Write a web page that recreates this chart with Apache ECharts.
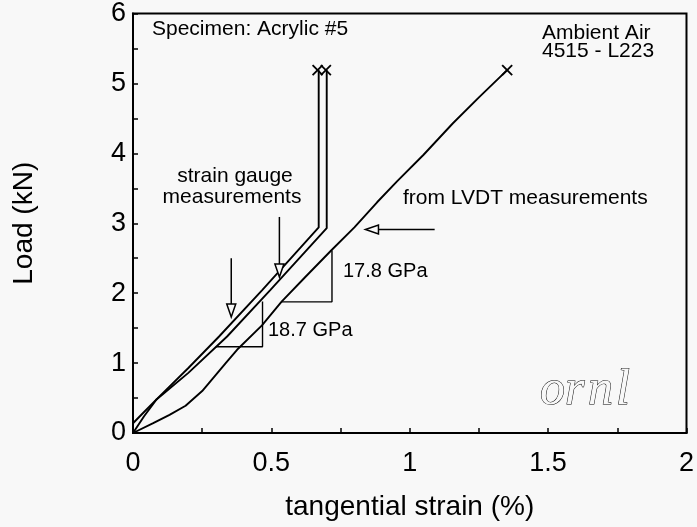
<!DOCTYPE html>
<html>
<head>
<meta charset="utf-8">
<script src="https://cdn.jsdelivr.net/npm/echarts@6/dist/echarts.min.js"></script>
<style>
  html, body { margin: 0; padding: 0; background: #f8f8f8; }
  #chart { width: 697px; height: 527px; }
</style>
</head>
<body>
<div id="chart"></div>
<script>
// Load vs. tangential strain, acrylic ring specimen #5 (strain %, load kN)

// strain gauge record that starts at the origin
const gaugeA = [
  [0, 0], [0.04, 0.24], [0.085, 0.48], [0.2, 0.93], [0.311, 1.38],
  [0.466, 2.04], [0.671, 2.94], [0.671, 5.19]
];
// second strain gauge record
const gaugeB = [
  [0, 0.14], [0.04, 0.3], [0.085, 0.48], [0.2, 0.86], [0.34, 1.38],
  [0.495, 2.04], [0.70, 2.93], [0.70, 5.19]
];
// strain computed from LVDT displacement
const lvdt = [
  [0, 0], [0.073, 0.14], [0.132, 0.26], [0.19, 0.39], [0.25, 0.6],
  [0.335, 1.0], [0.376, 1.19], [0.466, 1.54], [0.537, 1.88], [0.62, 2.22],
  [0.716, 2.61], [0.80, 2.94], [0.882, 3.30], [0.954, 3.60], [1.05, 3.98],
  [1.156, 4.43], [1.25, 4.80], [1.352, 5.19]
];
// failure points (x marks)
const failure = [[0.667, 5.19], [0.697, 5.19], [1.352, 5.19]];
// slope triangles used for the modulus estimates
const slope187 = [[0.299, 1.233], [0.468, 1.233], [0.468, 1.88]];
const slope178 = [[0.537, 1.876], [0.719, 1.876], [0.719, 2.61]];
// callout arrows: [fromStrain, fromLoad, toStrain, toLoad]
const arrows = [
  [0.355, 2.50, 0.355, 1.66],
  [0.529, 3.09, 0.529, 2.23],
  [1.09, 2.91, 0.84, 2.91]
];
const strainRange = [0, 2];
const loadRange = [0, 6];

const FONT = "'Liberation Sans', Arial, Helvetica, sans-serif";
const LOGO_FONT = 'italic 50px "Liberation Serif", "DejaVu Serif", serif';
const BG = '#f8f8f8';

const chart = echarts.init(document.getElementById('chart'));

const curve = (data) => ({
  type: 'line',
  data: data,
  symbol: 'none',
  lineStyle: { color: '#000', width: 1.9 },
  silent: true,
  z: 3
});

const thin = (data) => ({
  type: 'line',
  data: data,
  symbol: 'none',
  lineStyle: { color: '#000', width: 1.4 },
  silent: true,
  z: 3
});

function text(x, y, s, opts) {
  return {
    type: 'text',
    style: Object.assign({
      x: x, y: y, text: s,
      font: '21px ' + FONT,
      fill: '#000',
      textAlign: 'left',
      textVerticalAlign: 'middle'
    }, opts || {}),
    z: 10
  };
}

// spaced, outlined logo letters
function logo(x, s) {
  return text(x, 391, s, { font: LOGO_FONT, fill: BG, stroke: '#000', lineWidth: 1 });
}

chart.setOption({
  backgroundColor: BG,
  animation: false,
  grid: {
    left: 133, right: 4, top: 13, bottom: 94,
    show: true, borderColor: '#000', borderWidth: 2,
    backgroundColor: 'transparent'
  },
  xAxis: {
    type: 'value',
    min: strainRange[0], max: strainRange[1], interval: 0.5,
    name: 'tangential strain (%)',
    nameLocation: 'middle', nameGap: 60,
    nameTextStyle: { fontFamily: FONT, fontSize: 28, color: '#000' },
    axisLine: { show: true, lineStyle: { color: '#000', width: 2 } },
    axisTick: { show: true, inside: true, length: 5, lineStyle: { color: '#000', width: 1.5 } },
    minorTick: { show: true, splitNumber: 2, length: 5, lineStyle: { color: '#000', width: 1.5 } },
    splitLine: { show: false },
    axisLabel: { fontFamily: FONT, fontSize: 27, color: '#000', margin: 17 }
  },
  yAxis: {
    type: 'value',
    min: loadRange[0], max: loadRange[1], interval: 1,
    name: 'Load (kN)',
    nameLocation: 'middle', nameGap: 95,
    nameTextStyle: { fontFamily: FONT, fontSize: 28, color: '#000' },
    axisLine: { show: true, lineStyle: { color: '#000', width: 2 } },
    axisTick: { show: true, inside: true, length: 5, lineStyle: { color: '#000', width: 1.5 } },
    minorTick: { show: true, splitNumber: 2, length: 5, lineStyle: { color: '#000', width: 1.5 } },
    splitLine: { show: false },
    axisLabel: { fontFamily: FONT, fontSize: 27, color: '#000', margin: 7 }
  },
  series: [
    curve(gaugeA),
    curve(gaugeB),
    curve(lvdt),
    thin(slope187),
    thin(slope178),
    {
      // failure markers
      type: 'custom',
      data: failure,
      silent: true,
      z: 4,
      renderItem: function (params, api) {
        const p = api.coord([api.value(0), api.value(1)]);
        const r = 5;
        return {
          type: 'group',
          children: [
            { type: 'line', shape: { x1: p[0] - r, y1: p[1] - r, x2: p[0] + r, y2: p[1] + r }, style: { stroke: '#000', lineWidth: 1.8 } },
            { type: 'line', shape: { x1: p[0] - r, y1: p[1] + r, x2: p[0] + r, y2: p[1] - r }, style: { stroke: '#000', lineWidth: 1.8 } }
          ]
        };
      }
    },
    {
      // callout arrows with open heads
      type: 'custom',
      data: arrows,
      silent: true,
      z: 5,
      renderItem: function (params, api) {
        const p0 = api.coord([api.value(0), api.value(1)]);
        const p1 = api.coord([api.value(2), api.value(3)]);
        const dx = p1[0] - p0[0], dy = p1[1] - p0[1];
        const len = Math.hypot(dx, dy);
        const ux = dx / len, uy = dy / len;
        const nx = -uy, ny = ux;
        const headLen = 13, half = 4.5;
        const bx = p1[0] - ux * headLen, by = p1[1] - uy * headLen;
        return {
          type: 'group',
          children: [
            { type: 'line', shape: { x1: p0[0], y1: p0[1], x2: bx, y2: by }, style: { stroke: '#000', lineWidth: 1.5 } },
            {
              type: 'polygon',
              shape: { points: [[p1[0], p1[1]], [bx + nx * half, by + ny * half], [bx - nx * half, by - ny * half]] },
              style: { fill: BG, stroke: '#000', lineWidth: 1.5 }
            }
          ]
        };
      }
    }
  ],
  graphic: [
    text(152, 29, 'Specimen: Acrylic #5'),
    text(542, 33, 'Ambient Air'),
    text(542, 51, '4515 - L223'),
    text(235, 176, 'strain gauge', { textAlign: 'center' }),
    text(232, 197, 'measurements', { textAlign: 'center' }),
    text(403, 198, 'from LVDT measurements'),
    text(343, 271, '17.8 GPa', { font: '20px ' + FONT }),
    text(268, 330, '18.7 GPa', { font: '20px ' + FONT }),
    logo(540, 'o'),
    logo(565, 'r'),
    logo(588, 'n'),
    logo(616, 'l')
  ]
});
</script>
</body>
</html>
